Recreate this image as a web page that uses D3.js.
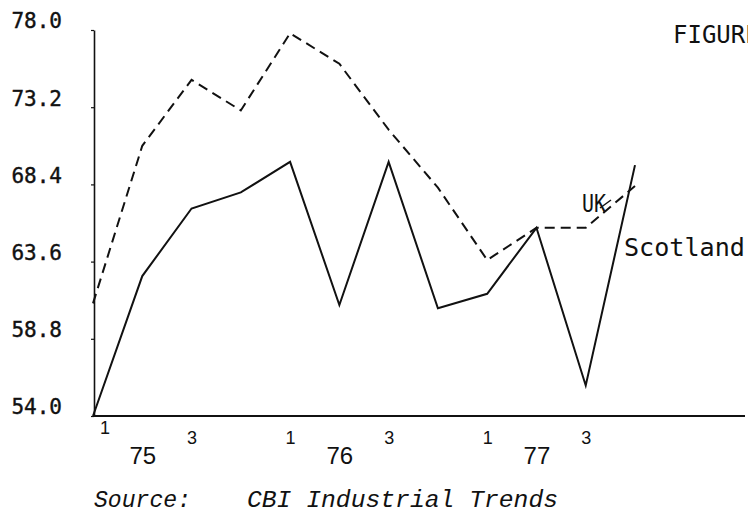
<!DOCTYPE html>
<html>
<head>
<meta charset="utf-8">
<script src="https://cdn.jsdelivr.net/npm/d3@7"></script>
<style>
  body { margin: 0; background: #fff; }
  svg { display: block; }
</style>
</head>
<body>
<svg id="chart"></svg>
<script>
const WIDTH = 748, HEIGHT = 526;

// quarters 1975 Q1 .. 1977 Q4
const quarters = ["75Q1", "75Q2", "75Q3", "75Q4", "76Q1", "76Q2", "76Q3", "76Q4", "77Q1", "77Q2", "77Q3", "77Q4"];
const scotland = [54.0, 62.7, 66.9, 67.9, 69.8, 60.9, 69.8, 60.7, 61.6, 65.7, 55.9, 69.6];
const uk = [61.0, 70.8, 74.9, 73.0, 77.8, 75.9, 71.8, 68.2, 63.7, 65.7, 65.7, 68.3];

const yTicks = [54.0, 58.8, 63.6, 68.4, 73.2, 78.0];
const quarterTicks = ["75Q1", "75Q3", "76Q1", "76Q3", "77Q1", "77Q3"];
const quarterLabels = ["1", "3", "1", "3", "1", "3"];
const yearTicks = ["75Q2", "76Q2", "77Q2"];
const yearLabels = ["75", "76", "77"];

const mono = "'DejaVu Sans Mono', monospace";
const narrow = "'Liberation Sans Narrow', 'Arial Narrow', 'Liberation Sans', sans-serif";
const typewriter = "'Liberation Mono', 'Courier New', monospace";

var svg = d3.select("#chart")
    .attr("width", WIDTH)
    .attr("height", HEIGHT);

var x = d3.scalePoint()
    .domain(quarters)
    .range([93, 635]);

var y = d3.scaleLinear()
    .domain([54, 78])
    .range([416, 30]);

// Y axis
var yAxis = svg.append("g")
    .attr("transform", "translate(94,0)")
    .call(d3.axisLeft(y)
        .tickValues(yTicks)
        .tickFormat(d3.format(".1f"))
        .tickSizeInner(3)
        .tickSizeOuter(0)
        .tickPadding(29));
yAxis.select(".domain").attr("stroke", "#111").attr("stroke-width", 1.6);
yAxis.selectAll(".tick line").attr("stroke", "#111").attr("stroke-width", 1.2);
yAxis.selectAll(".tick text")
    .attr("font-family", mono)
    .attr("font-size", 21)
    .attr("fill", "#111")
    .attr("stroke", "#111")
    .attr("stroke-width", 0.4)
    .attr("dy", "-0.1em");

// X axis line, runs on to the page edge
svg.append("line")
    .attr("x1", x(quarters[0]))
    .attr("x2", 745)
    .attr("y1", y(54))
    .attr("y2", y(54))
    .attr("stroke", "#111")
    .attr("stroke-width", 2.2);

// quarter numbers
var qAxis = svg.append("g")
    .attr("transform", "translate(0," + y(54) + ")")
    .call(d3.axisBottom(x)
        .tickValues(quarterTicks)
        .tickFormat((d, i) => quarterLabels[i])
        .tickSize(0)
        .tickPadding(15));
qAxis.select(".domain").remove();
qAxis.selectAll(".tick text")
    .attr("font-family", narrow)
    .attr("font-size", 18)
    .attr("fill", "#111");
qAxis.selectAll(".tick").filter((d, i) => i === 0)
    .attr("transform", "translate(" + (x(quarters[0]) + 12) + ",-10)");

// years
var yrAxis = svg.append("g")
    .attr("transform", "translate(0," + y(54) + ")")
    .call(d3.axisBottom(x)
        .tickValues(yearTicks)
        .tickFormat((d, i) => yearLabels[i])
        .tickSize(0)
        .tickPadding(31));
yrAxis.select(".domain").remove();
yrAxis.selectAll(".tick text")
    .attr("font-family", narrow)
    .attr("font-size", 24)
    .attr("fill", "#111");

var line = d3.line()
    .x((d, i) => x(quarters[i]))
    .y(d => y(d));

svg.append("path")
    .datum(uk)
    .attr("d", line)
    .attr("fill", "none")
    .attr("stroke", "#111")
    .attr("stroke-width", 2)
    .attr("stroke-dasharray", "10,6");

svg.append("path")
    .datum(scotland)
    .attr("d", line)
    .attr("fill", "none")
    .attr("stroke", "#111")
    .attr("stroke-width", 2);

// labels
svg.append("text")
    .attr("x", 582)
    .attr("y", 212)
    .attr("font-family", mono)
    .attr("font-size", 24)
    .attr("textLength", 24)
    .attr("lengthAdjust", "spacingAndGlyphs")
    .attr("fill", "#111")
    .text("UK");

// little tail from the UK label towards the dashed line
svg.append("path")
    .attr("d", "M600,208 L611,200")
    .attr("fill", "none")
    .attr("stroke", "#111")
    .attr("stroke-width", 1.5);

svg.append("text")
    .attr("x", 624)
    .attr("y", 256)
    .attr("font-family", mono)
    .attr("font-size", 25)
    .attr("textLength", 121)
    .attr("lengthAdjust", "spacingAndGlyphs")
    .attr("fill", "#111")
    .text("Scotland");

svg.append("text")
    .attr("x", 673)
    .attr("y", 43)
    .attr("font-family", mono)
    .attr("font-size", 24)
    .attr("fill", "#111")
    .text("FIGURE");

svg.append("text")
    .attr("x", 94)
    .attr("y", 507)
    .attr("font-family", typewriter)
    .attr("font-style", "italic")
    .attr("font-size", 24)
    .attr("textLength", 97)
    .attr("lengthAdjust", "spacingAndGlyphs")
    .attr("fill", "#111")
    .text("Source:");

svg.append("text")
    .attr("x", 247)
    .attr("y", 507)
    .attr("font-family", typewriter)
    .attr("font-style", "italic")
    .attr("font-size", 24)
    .attr("textLength", 311)
    .attr("lengthAdjust", "spacingAndGlyphs")
    .attr("fill", "#111")
    .text("CBI Industrial Trends");
</script>
</body>
</html>
